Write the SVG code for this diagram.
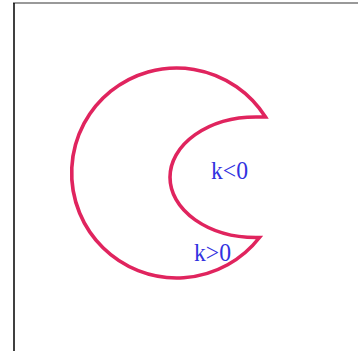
<svg xmlns="http://www.w3.org/2000/svg" width="358" height="351" viewBox="0 0 358 351">
<style>
.lbl{font-family:"Liberation Serif","DejaVu Serif",serif;font-size:25px;fill:#3232e0}
.moon{fill:none;stroke:#e0245e;stroke-width:3.6;stroke-linejoin:miter}
</style>
<rect x="0" y="0" width="358" height="351" fill="#fff"/>
<line x1="13" y1="3" x2="358" y2="3" stroke="#777" stroke-width="1.5"/>
<line x1="14" y1="3" x2="14" y2="351" stroke="#000" stroke-width="1.5"/>
<g id="moon">
<path class="moon" d="M265.5,117 A105,105 0 1 0 259.5,237.5 L256,237.5 A86,60.25 0 0 1 256,117 Z"/>
</g>
<g id="label-neg"><text class="lbl" x="211" y="179" textLength="37" lengthAdjust="spacingAndGlyphs">k&lt;0</text></g>
<g id="label-pos"><text class="lbl" x="194" y="261" textLength="37" lengthAdjust="spacingAndGlyphs">k&gt;0</text></g>
</svg>
